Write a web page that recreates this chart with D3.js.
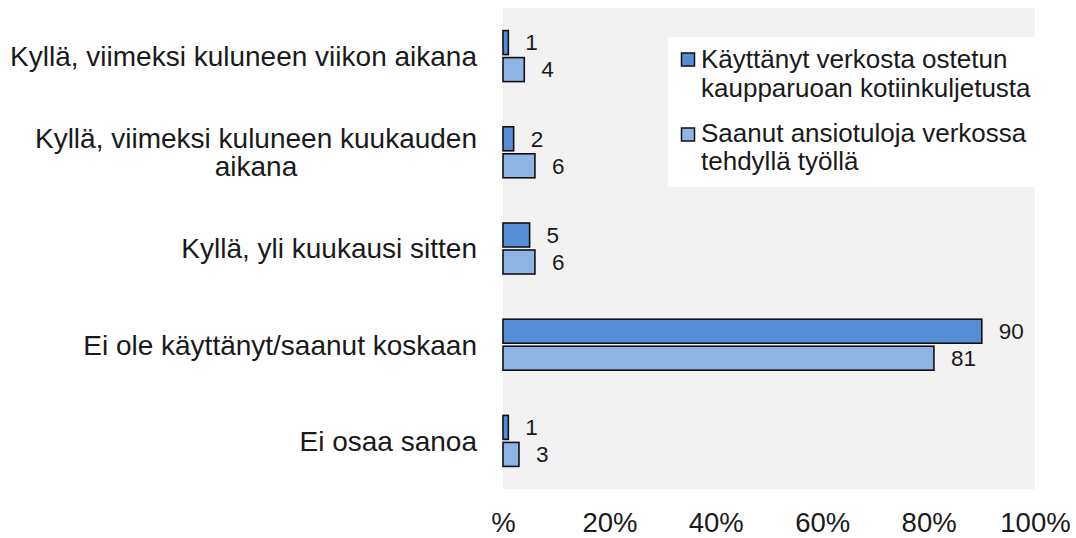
<!DOCTYPE html>
<html><head><meta charset="utf-8">
<script src="https://cdn.jsdelivr.net/npm/d3@7"></script>
<style>
html,body{margin:0;padding:0;background:#fff;}
svg{display:block;font-family:"Liberation Sans",Arial,sans-serif;}
</style></head>
<body>
<svg id="chart" width="1076" height="538"></svg>
<script>
const categories = [
  ["Kyllä, viimeksi kuluneen viikon aikana"],
  ["Kyllä, viimeksi kuluneen kuukauden", "aikana"],
  ["Kyllä, yli kuukausi sitten"],
  ["Ei ole käyttänyt/saanut koskaan"],
  ["Ei osaa sanoa"]
];
const seriesNames = [
  ["Käyttänyt verkosta ostetun", "kaupparuoan kotiinkuljetusta"],
  ["Saanut ansiotuloja verkossa", "tehdyllä työllä"]
];
const seriesA = [1, 2, 5, 90, 1];
const seriesB = [4, 6, 6, 81, 3];
const tickValues = [0, 20, 40, 60, 80, 100];
const tickLabels = ["%", "20%", "40%", "60%", "80%", "100%"];
const colors = ["#558ed5", "#8eb4e3"];

const svg = d3.select("#chart");
const plot = {left: 503, right: 1035, top: 8, bottom: 489};

const catKeys = categories.map((c, i) => i);
const x = d3.scaleLinear().domain([0, 100]).range([plot.left, plot.right]);
const y = d3.scaleBand().domain(catKeys).range([plot.top, plot.bottom]).padding(0);
const bw = y.bandwidth();
const sub = d3.scaleBand().domain([0, 1])
  .range([bw / 2 - 25.5, bw / 2 + 25.5]).paddingInner(3 / 27).paddingOuter(0);

// background
svg.append("rect").attr("x", plot.left).attr("y", plot.top)
  .attr("width", plot.right - plot.left).attr("height", plot.bottom - plot.top)
  .attr("fill", "#f2f2f2");

const series = [seriesA, seriesB];
series.forEach((vals, si) => {
  const g = svg.append("g");
  g.selectAll("rect").data(vals).join("rect")
    .attr("x", x(0))
    .attr("y", (d, i) => y(i) + sub(si))
    .attr("width", d => x(d) - x(0))
    .attr("height", sub.bandwidth())
    .attr("fill", colors[si])
    .attr("stroke", "#111")
    .attr("stroke-width", 1.6);
  g.selectAll("text").data(vals).join("text")
    .attr("x", d => x(d) + 17)
    .attr("y", (d, i) => y(i) + sub(si) + sub.bandwidth() / 2)
    .attr("dy", "0.35em")
    .attr("font-size", 22.5)
    .attr("fill", "#1a1a1a")
    .text(d => d);
});

// category labels
const labelRight = 477;
const fs = 28;
categories.forEach((lines, i) => {
  const g = svg.append("g");
  const cy = y(i) + bw / 2;
  const lh = 28;
  const texts = lines.map((ln, j) => g.append("text")
    .attr("font-size", fs).attr("fill", "#1a1a1a")
    .attr("text-anchor", "middle")
    .attr("y", cy + (j - (lines.length - 1) / 2) * lh)
    .attr("dy", "0.35em")
    .text(ln));
  const widths = texts.map(t => t.node().getComputedTextLength());
  const maxW = d3.max(widths);
  texts.forEach(t => t.attr("x", labelRight - maxW / 2));
});

// x axis
const axis = d3.axisBottom(x).tickValues(tickValues)
  .tickFormat((d, i) => tickLabels[i]).tickSize(0).tickPadding(0);
const ag = svg.append("g").attr("transform", "translate(0,522)").call(axis);
ag.select(".domain").remove();
ag.selectAll("text").attr("font-size", 27.5).attr("fill", "#1a1a1a")
  .attr("font-family", "'Liberation Sans', Arial, sans-serif")
  .attr("dy", "0.35em").attr("y", 0);

// legend
const lg = svg.append("g");
lg.append("rect").attr("x", 668).attr("y", 37).attr("width", 367).attr("height", 150)
  .attr("fill", "#fff");
const markerY = [53, 128];
const baselines = [[68, 97], [142, 170]];
seriesNames.forEach((lines, si) => {
  lg.append("rect").attr("x", 681.5).attr("y", markerY[si]).attr("width", 13).attr("height", 13)
    .attr("fill", colors[si]).attr("stroke", "#111").attr("stroke-width", 1.5);
  lines.forEach((ln, j) => {
    lg.append("text").attr("x", 701).attr("y", baselines[si][j])
      .attr("font-size", 26).attr("fill", "#1a1a1a").text(ln);
  });
});
</script>
</body></html>
